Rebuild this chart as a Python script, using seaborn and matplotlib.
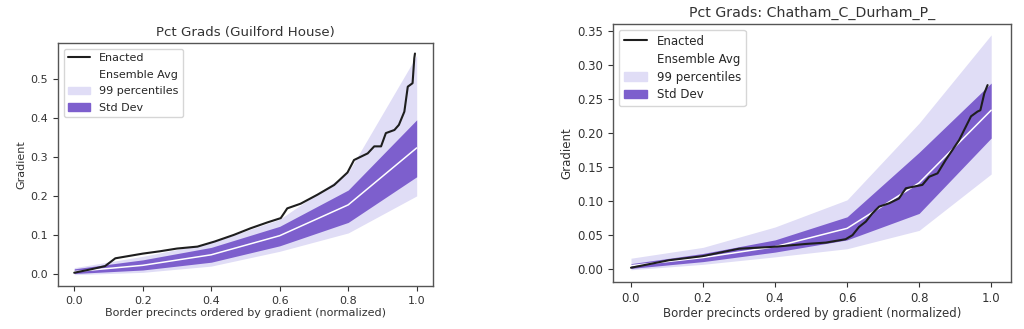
import matplotlib
matplotlib.use("Agg")
import matplotlib.pyplot as plt
import seaborn as sns
from matplotlib.patches import Patch
from matplotlib.lines import Line2D

# ---------------- data ----------------
ens_x = [0.0, 0.2, 0.4, 0.6, 0.8, 1.0]

# Left: Guilford House
g_mean = [0.006, 0.022, 0.049, 0.098, 0.177, 0.323]
g_std_lo = [0.001, 0.010, 0.030, 0.072, 0.132, 0.249]
g_std_hi = [0.013, 0.036, 0.068, 0.122, 0.215, 0.395]
g_p_lo = [-0.002, 0.004, 0.020, 0.058, 0.105, 0.200]
g_p_hi = [0.016, 0.045, 0.080, 0.140, 0.260, 0.560]
g_enacted_x = [0.0, 0.05, 0.09, 0.105, 0.12, 0.2, 0.25, 0.3, 0.36, 0.41, 0.466,
               0.515, 0.564, 0.603, 0.613, 0.622, 0.661, 0.71, 0.759, 0.798,
               0.817, 0.857, 0.876, 0.896, 0.91, 0.935, 0.948, 0.964, 0.974,
               0.988, 0.993, 0.995]
g_enacted_y = [0.003, 0.012, 0.020, 0.030, 0.040, 0.052, 0.058, 0.065, 0.070,
               0.083, 0.100, 0.117, 0.132, 0.143, 0.156, 0.168, 0.180, 0.203,
               0.228, 0.260, 0.292, 0.309, 0.327, 0.327, 0.361, 0.369, 0.382,
               0.416, 0.480, 0.489, 0.553, 0.565]

# Right: Chatham_C_Durham_P_
c_mean = [0.005, 0.017, 0.033, 0.060, 0.127, 0.234]
c_std_lo = [0.001, 0.011, 0.025, 0.043, 0.082, 0.193]
c_std_hi = [0.008, 0.023, 0.043, 0.077, 0.172, 0.274]
c_p_lo = [-0.001, 0.007, 0.018, 0.030, 0.057, 0.140]
c_p_hi = [0.016, 0.032, 0.062, 0.102, 0.215, 0.345]
c_enacted_x = [0.0, 0.105, 0.198, 0.3, 0.402, 0.485, 0.541, 0.596, 0.615,
               0.633, 0.652, 0.67, 0.689, 0.717, 0.744, 0.763, 0.781, 0.809,
               0.828, 0.851, 0.874, 0.911, 0.944, 0.962, 0.97, 0.981, 0.99]
c_enacted_y = [0.002, 0.013, 0.019, 0.030, 0.033, 0.037, 0.039, 0.044, 0.050,
               0.062, 0.070, 0.082, 0.092, 0.097, 0.104, 0.119, 0.121, 0.124,
               0.136, 0.141, 0.161, 0.190, 0.225, 0.232, 0.234, 0.259, 0.271]

titles = ["Pct Grads (Guilford House)", "Pct Grads: Chatham_C_Durham_P_"]
xlabel = "Border precincts ordered by gradient (normalized)"
ylabel = "Gradient"
x_ticks = [0, 0.2, 0.4, 0.6, 0.8, 1.0]
g_yticks = [0, 0.1, 0.2, 0.3, 0.4, 0.5]
c_yticks = [0, 0.05, 0.1, 0.15, 0.2, 0.25, 0.3, 0.35]
legend_labels = ["Enacted", "Ensemble Avg", "99 percentiles", "Std Dev"]

# ---------------- style ----------------
sns.set_theme(style="ticks")
plt.rcParams['font.family'] = ['DejaVu Sans']
STD_C = "#7d5fcd"
PCT_C = "#e0ddf6"
TEXT_C = "#333333"

fig = plt.figure(figsize=(10.24, 3.29), dpi=100)
ax1 = fig.add_axes([0.0566, 0.1307, 0.3662, 0.7386])
ax2 = fig.add_axes([0.5986, 0.1429, 0.3887, 0.7842])

panels = [
    (ax1, g_mean, g_std_lo, g_std_hi, g_p_lo, g_p_hi, g_enacted_x, g_enacted_y,
     titles[0], g_yticks, "{:.1f}", 9.6, 8.0, 0.6),
    (ax2, c_mean, c_std_lo, c_std_hi, c_p_lo, c_p_hi, c_enacted_x, c_enacted_y,
     titles[1], c_yticks, "{:.2f}", 10.2, 8.5, 0.42),
]

for ax, mean, slo, shi, plo, phi, ex, ey, title, yt, fmt, tfs, fs, lsp in panels:
    ax.fill_between(ens_x, plo, phi, color=PCT_C, linewidth=0)
    ax.fill_between(ens_x, slo, shi, color=STD_C, linewidth=0)
    sns.lineplot(x=ens_x, y=mean, ax=ax, color="white", linewidth=1.1)
    sns.lineplot(x=ex, y=ey, ax=ax, color="#1e1e1e", linewidth=1.5, sort=False)
    ax.set_title(title, fontsize=tfs, color=TEXT_C, pad=5)
    ax.set_xlabel(xlabel, fontsize=fs, color=TEXT_C, labelpad=2)
    ax.set_ylabel(ylabel, fontsize=fs, color=TEXT_C, labelpad=3)
    ax.set_xticks(x_ticks)
    ax.set_xticklabels(["{:.1f}".format(v) for v in x_ticks])
    ax.set_yticks(yt)
    ax.set_yticklabels([fmt.format(v) for v in yt])
    ax.tick_params(labelsize=fs, colors=TEXT_C, length=3.5, width=0.8)
    for s in ax.spines.values():
        s.set_color("#555555")
        s.set_linewidth(1.0)
    handles = [
        Line2D([0], [0], color="#1e1e1e", lw=1.5),
        Line2D([0], [0], color="white", lw=1.1),
        Patch(facecolor=PCT_C, edgecolor=PCT_C),
        Patch(facecolor=STD_C, edgecolor=STD_C),
    ]
    ax.legend(handles, legend_labels,
              loc="upper left", fontsize=fs, frameon=True, framealpha=0.8,
              borderpad=0.4, labelspacing=lsp, handlelength=2.0)

ax1.set_xlim(-0.0475, 1.0475)
ax1.set_ylim(-0.031, 0.592)
ax2.set_xlim(-0.05, 1.055)
ax2.set_ylim(-0.019, 0.361)

fig.savefig("out.png", dpi=100)
